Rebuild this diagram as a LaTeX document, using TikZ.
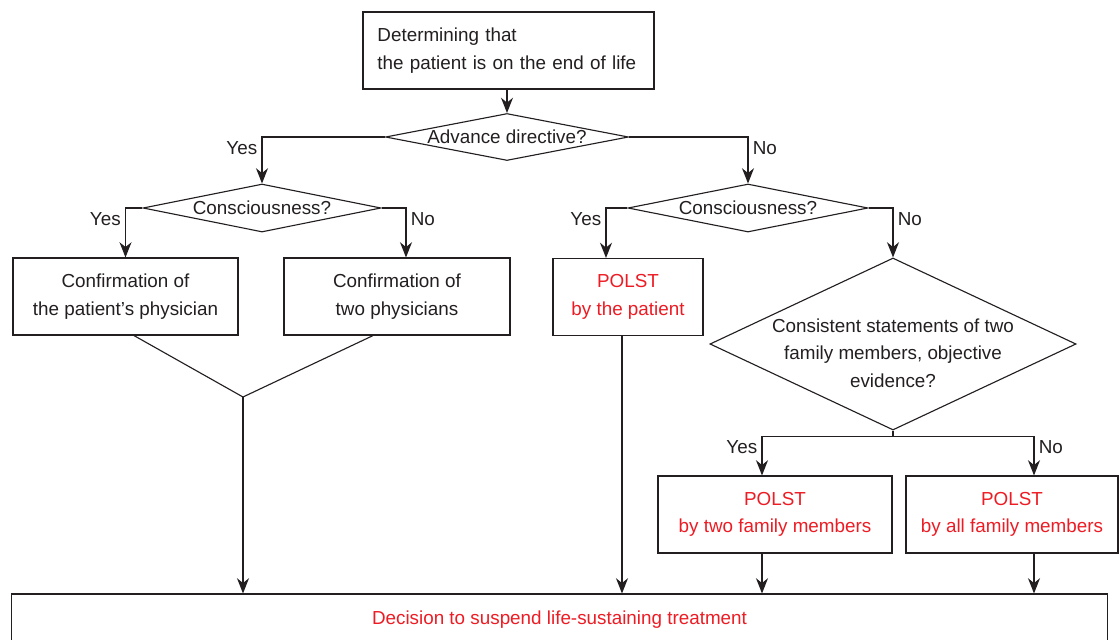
\documentclass[tikz,border=0pt]{standalone}
\usepackage{fontspec}
\setmainfont{Liberation Sans}
\usepackage{tikz}
\usetikzlibrary{arrows.meta}
\usetikzlibrary{positioning,calc}
\usetikzlibrary{shapes}
\definecolor{inkdark}{HTML}{231F20}
\definecolor{polstred}{HTML}{ED1C24}
\tikzset{
  every node/.style={font=\fontsize{13.4}{19.5}\selectfont, text=inkdark},
  stepbox/.style={
    draw=inkdark,
    rectangle,
    fill=white,
    line width=0.8pt,
    align=center,
    inner sep=0pt,
    minimum height=1.925cm
  },
  decision/.style={
    draw=inkdark,
    diamond,
    line width=0.8pt,
    inner sep=0pt
  },
  flow/.style={
    draw=inkdark,
    line width=0.8pt,
    -{Stealth[length=3.8mm, width=3mm, inset=1.2mm]}
  },
  link/.style={draw=inkdark, line width=0.8pt},
  answer/.style={inner xsep=3pt, inner ysep=2.5pt}
}

\begin{document}
\begin{tikzpicture}[x=0.025cm, y=-0.025cm]
  \useasboundingbox (0,0) rectangle (1119,639);

  % Starting point
  \node[stepbox, align=left, text width=6.55cm, minimum width=7.275cm] (start) at (508.5,50.5)
    {Determining that\\the patient is on the end of life};

  % Questions
  \node[decision, minimum width=6.075cm, minimum height=1.175cm,
    label={center:Advance directive?}] (d1) at (507,137) {};
  \node[decision, minimum width=5.95cm, minimum height=1.2cm,
    label={center:Consciousness?}] (d2) at (262,208) {};
  \node[decision, minimum width=6cm, minimum height=1.2cm,
    label={center:Consciousness?}] (d3) at (748,208) {};
  \node[decision, minimum width=9.15cm, minimum height=4.3cm,
    label={[align=center, yshift=-0.225cm]center:{Consistent statements of two\\family members, objective\\evidence?}}] (d4) at (893,344) {};

  % Outcome boxes
  \node[stepbox, minimum width=5.625cm] (b1) at (125.5,296.5) {Confirmation of\\the patient's physician};
  \node[stepbox, minimum width=5.65cm] (b2) at (397,296.5) {Confirmation of\\two physicians};
  \node[stepbox, minimum width=3.75cm, text=polstred] (b3) at (628,297) {POLST\\by the patient};
  \node[stepbox, minimum width=5.85cm, text=polstred] (b4) at (775,514.5) {POLST\\by two family members};
  \node[stepbox, minimum width=5.3cm, text=polstred] (b5) at (1012,514.5) {POLST\\by all family members};

  % Final decision
  \node[stepbox, minimum width=27.375cm, minimum height=1.3cm, text=polstred] (decide) at (559.5,620)
    {Decision to suspend life-sustaining treatment};

  % Branches
  \draw[flow] (start.south -| d1.north) -- (d1.north);
  \draw[flow] (d1.west) -| (d2.north) node[answer, pos=0.5, anchor=north east] {Yes};
  \draw[flow] (d1.east) -| (d3.north) node[answer, pos=0.5, anchor=north west] {No};
  \draw[flow] (d2.west) -| (b1.north) node[answer, pos=0.5, anchor=north east] {Yes};
  \draw[flow] (d2.east) -| ($(b2.north)+(9,0)$) node[answer, pos=0.5, anchor=north west] {No};
  \draw[flow] (d3.west) -| ($(b3.north)+(-22,0)$) node[answer, pos=0.5, anchor=north east] {Yes};
  \draw[flow] (d3.east) -| (d4.north) node[answer, pos=0.5, anchor=north west] {No};

  % Family members
  \draw[link] (d4.south) -- ++(0,6) coordinate (split);
  \draw[flow] (split) -| ($(b4.north)+(-13,0)$) node[answer, pos=0.5, anchor=north east] {Yes};
  \draw[flow] (split) -| ($(b5.north)+(22,0)$) node[answer, pos=0.5, anchor=north west] {No};

  % Merge of the physician boxes
  \coordinate (merge) at (243,397);
  \draw[link] ($(b1.south)+(8.5,0)$) -- (merge);
  \draw[link] ($(b2.south)+(-24,0)$) -- (merge);
  \draw[flow] (merge) -- (merge |- decide.north);

  % Down to the decision
  \coordinate (c3) at ($(b3.south)+(-6,0)$);
  \coordinate (c4) at ($(b4.south)+(-13,0)$);
  \coordinate (c5) at ($(b5.south)+(22,0)$);
  \draw[flow] (c3) -- (c3 |- decide.north);
  \draw[flow] (c4) -- (c4 |- decide.north);
  \draw[flow] (c5) -- (c5 |- decide.north);
\end{tikzpicture}
\end{document}
